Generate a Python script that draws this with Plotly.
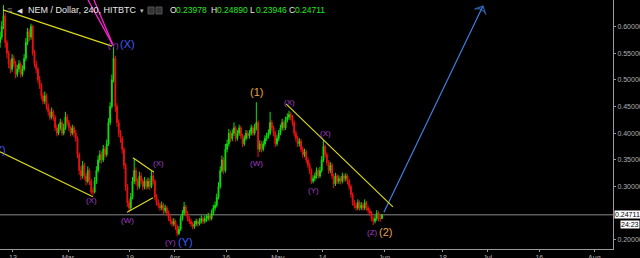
import plotly.graph_objects as go
import pandas as pd

# ---------------- data (12h candles) ----------------
candle_start = "2018-02-09 06:00"
candle_step = "12h"

opens = [0.570,0.580,0.600,0.620,0.570,0.550,0.530,0.520,0.540,0.530,
         0.510,0.520,0.530,0.510,0.520,0.540,0.570,0.590,0.580,0.600,
         0.550,0.530,0.520,0.500,0.490,0.470,0.460,0.470,0.450,0.440,
         0.430,0.440,0.430,0.410,0.400,0.410,0.420,0.400,0.410,0.430,
         0.420,0.410,0.400,0.410,0.400,0.390,0.360,0.330,0.320,0.340,
         0.320,0.310,0.330,0.310,0.290,0.290,0.310,0.330,0.350,0.360,
         0.350,0.370,0.360,0.380,0.420,0.450,0.500,0.540,0.450,0.420,
         0.400,0.390,0.370,0.340,0.300,0.270,0.260,0.280,0.310,0.330,
         0.310,0.300,0.320,0.310,0.300,0.310,0.300,0.310,0.300,0.320,
         0.310,0.280,0.270,0.265,0.260,0.265,0.255,0.260,0.250,0.240,
         0.235,0.230,0.235,0.225,0.212,0.220,0.240,0.250,0.262,0.250,
         0.240,0.235,0.230,0.225,0.230,0.235,0.230,0.235,0.240,0.235,
         0.240,0.240,0.245,0.240,0.250,0.260,0.265,0.280,0.300,0.330,
         0.350,0.330,0.370,0.380,0.400,0.390,0.400,0.410,0.390,0.400,
         0.410,0.395,0.380,0.390,0.400,0.395,0.400,0.410,0.400,0.410,
         0.420,0.370,0.380,0.370,0.380,0.390,0.395,0.400,0.420,0.410,
         0.400,0.380,0.390,0.400,0.410,0.420,0.410,0.425,0.430,0.435,
         0.430,0.420,0.400,0.390,0.380,0.385,0.370,0.360,0.365,0.350,
         0.340,0.330,0.310,0.315,0.320,0.330,0.320,0.330,0.350,0.375,
         0.360,0.345,0.330,0.340,0.320,0.305,0.320,0.310,0.315,0.310,
         0.320,0.315,0.320,0.310,0.300,0.285,0.270,0.265,0.260,0.270,
         0.260,0.265,0.260,0.270,0.260,0.255,0.250,0.240,0.235,0.240,
         0.250,0.240,0.23978]
highs = [0.590,0.610,0.640,0.625,0.575,0.555,0.538,0.548,0.546,0.535,
         0.528,0.537,0.534,0.527,0.548,0.578,0.597,0.596,0.605,0.603,
         0.556,0.536,0.524,0.507,0.494,0.476,0.478,0.474,0.456,0.446,
         0.448,0.444,0.434,0.416,0.417,0.427,0.424,0.418,0.440,0.436,
         0.425,0.414,0.416,0.414,0.406,0.394,0.364,0.338,0.348,0.345,
         0.326,0.338,0.334,0.315,0.298,0.318,0.338,0.358,0.368,0.366,
         0.378,0.375,0.388,0.428,0.458,0.510,0.561,0.545,0.456,0.426,
         0.406,0.395,0.374,0.344,0.305,0.276,0.288,0.318,0.352,0.336,
         0.316,0.328,0.326,0.315,0.318,0.314,0.317,0.315,0.330,0.325,
         0.314,0.286,0.276,0.270,0.272,0.269,0.266,0.264,0.255,0.246,
         0.240,0.241,0.238,0.229,0.226,0.246,0.256,0.271,0.266,0.254,
         0.245,0.240,0.234,0.236,0.240,0.239,0.241,0.246,0.244,0.246,
         0.247,0.251,0.249,0.257,0.266,0.272,0.287,0.308,0.338,0.358,
         0.355,0.380,0.388,0.408,0.405,0.407,0.420,0.414,0.406,0.416,
         0.414,0.399,0.396,0.406,0.405,0.406,0.416,0.414,0.417,0.458,
         0.424,0.387,0.385,0.386,0.396,0.401,0.407,0.440,0.425,0.414,
         0.404,0.396,0.406,0.416,0.427,0.424,0.431,0.437,0.442,0.440,
         0.434,0.424,0.405,0.395,0.391,0.389,0.375,0.371,0.369,0.355,
         0.345,0.334,0.321,0.326,0.336,0.334,0.337,0.357,0.387,0.379,
         0.364,0.349,0.346,0.344,0.324,0.326,0.324,0.321,0.319,0.326,
         0.324,0.325,0.323,0.314,0.304,0.289,0.275,0.270,0.276,0.274,
         0.271,0.269,0.276,0.273,0.264,0.259,0.254,0.244,0.246,0.256,
         0.254,0.247,0.24890]
lows = [0.560,0.575,0.595,0.560,0.540,0.522,0.512,0.515,0.524,0.503,
        0.505,0.514,0.504,0.506,0.516,0.535,0.565,0.572,0.575,0.545,
        0.524,0.512,0.494,0.483,0.463,0.454,0.455,0.444,0.433,0.424,
        0.426,0.423,0.404,0.394,0.396,0.405,0.395,0.396,0.406,0.414,
        0.404,0.394,0.396,0.393,0.384,0.353,0.322,0.312,0.315,0.313,
        0.302,0.306,0.303,0.286,0.283,0.287,0.305,0.326,0.344,0.343,
        0.346,0.354,0.356,0.376,0.415,0.446,0.495,0.440,0.412,0.393,
        0.382,0.362,0.333,0.292,0.262,0.252,0.256,0.276,0.305,0.303,
        0.293,0.296,0.304,0.293,0.295,0.294,0.296,0.294,0.297,0.304,
        0.274,0.264,0.259,0.254,0.256,0.249,0.250,0.245,0.235,0.229,
        0.225,0.226,0.219,0.207,0.209,0.217,0.236,0.246,0.244,0.235,
        0.230,0.225,0.220,0.221,0.226,0.225,0.227,0.231,0.230,0.231,
        0.234,0.236,0.235,0.237,0.246,0.255,0.261,0.276,0.296,0.326,
        0.323,0.326,0.364,0.375,0.383,0.385,0.395,0.384,0.386,0.395,
        0.389,0.374,0.376,0.386,0.389,0.390,0.396,0.395,0.396,0.405,
        0.355,0.365,0.364,0.366,0.375,0.385,0.390,0.396,0.404,0.394,
        0.374,0.376,0.385,0.396,0.405,0.404,0.406,0.420,0.425,0.424,
        0.414,0.394,0.384,0.374,0.375,0.364,0.354,0.355,0.344,0.334,
        0.323,0.305,0.306,0.310,0.315,0.315,0.316,0.326,0.346,0.354,
        0.339,0.324,0.325,0.314,0.297,0.301,0.305,0.305,0.304,0.306,
        0.309,0.310,0.304,0.294,0.279,0.264,0.259,0.255,0.256,0.255,
        0.256,0.255,0.256,0.255,0.250,0.245,0.235,0.228,0.231,0.236,
        0.235,0.234,0.23946]
closes = [0.580,0.600,0.620,0.570,0.550,0.530,0.520,0.540,0.530,0.510,
          0.520,0.530,0.510,0.520,0.540,0.570,0.590,0.580,0.600,0.550,
          0.530,0.520,0.500,0.490,0.470,0.460,0.470,0.450,0.440,0.430,
          0.440,0.430,0.410,0.400,0.410,0.420,0.400,0.410,0.430,0.420,
          0.410,0.400,0.410,0.400,0.390,0.360,0.330,0.320,0.340,0.320,
          0.310,0.330,0.310,0.290,0.290,0.310,0.330,0.350,0.360,0.350,
          0.370,0.360,0.380,0.420,0.450,0.500,0.540,0.450,0.420,0.400,
          0.390,0.370,0.340,0.300,0.270,0.260,0.280,0.310,0.330,0.310,
          0.300,0.320,0.310,0.300,0.310,0.300,0.310,0.300,0.320,0.310,
          0.280,0.270,0.265,0.260,0.265,0.255,0.260,0.250,0.240,0.235,
          0.230,0.235,0.225,0.212,0.220,0.240,0.250,0.262,0.250,0.240,
          0.235,0.230,0.225,0.230,0.235,0.230,0.235,0.240,0.235,0.240,
          0.240,0.245,0.240,0.250,0.260,0.265,0.280,0.300,0.330,0.350,
          0.330,0.370,0.380,0.400,0.390,0.400,0.410,0.390,0.400,0.410,
          0.395,0.380,0.390,0.400,0.395,0.400,0.410,0.400,0.410,0.420,
          0.370,0.380,0.370,0.380,0.390,0.395,0.400,0.420,0.410,0.400,
          0.380,0.390,0.400,0.410,0.420,0.410,0.425,0.430,0.435,0.430,
          0.420,0.400,0.390,0.380,0.385,0.370,0.360,0.365,0.350,0.340,
          0.330,0.310,0.315,0.320,0.330,0.320,0.330,0.350,0.375,0.360,
          0.345,0.330,0.340,0.320,0.305,0.320,0.310,0.315,0.310,0.320,
          0.315,0.320,0.310,0.300,0.285,0.270,0.265,0.260,0.270,0.260,
          0.265,0.260,0.270,0.260,0.255,0.250,0.240,0.235,0.240,0.250,
          0.240,0.23978,0.24711]

last_price = 0.24711
last_price_text = "0.24711"
countdown_text = "24:23"

x_range = ["2018-02-09 05:30", "2018-08-06 10:20"]
y_range = [0.1831, 0.6494]

x_tick_dates = ["2018-02-13", "2018-03-01", "2018-03-19", "2018-04-01", "2018-04-16", "2018-05-01",
                "2018-05-14", "2018-06-01", "2018-06-18", "2018-07-01", "2018-07-16", "2018-08-01"]
x_tick_labels = ["13", "Mar", "19", "Apr", "16", "May", "14", "Jun", "18", "Jul", "16", "Aug"]
y_tick_vals = [0.20, 0.30, 0.35, 0.40, 0.45, 0.50, 0.55, 0.60]
y_tick_labels = ["0.20000", "0.30000", "0.35000", "0.40000", "0.45000", "0.50000", "0.55000", "0.60000"]

# trend lines drawn on the chart (yellow)
trend_x0 = ["2018-02-10 02:00", "2018-02-09 05:30", "2018-03-19 21:00", "2018-03-18 03:30", "2018-05-03 09:00"]
trend_y0 = [0.631, 0.365, 0.354, 0.252, 0.455]
trend_x1 = ["2018-03-13 19:00", "2018-03-08 06:00", "2018-03-26 00:00", "2018-03-25 17:00", "2018-06-03 11:00"]
trend_y1 = [0.563, 0.281, 0.327, 0.279, 0.262]

# magenta lines
mag_x0 = ["2018-03-06 19:30", "2018-03-08 13:00"]
mag_y0 = [0.6494, 0.6494]
mag_x1 = ["2018-03-14 02:00", "2018-03-14 02:00"]
mag_y1 = [0.565, 0.565]

# blue projection arrow
arrow_x = ["2018-05-31 20:00", "2018-06-29 15:00"]
arrow_y = [0.252, 0.638]

# wave labels
PURPLE = "#a23fc8"
BLUE = "#3d5bff"
ORANGE = "#e6a24a"
label_text = ["(Y)", "(X)", "(X)", "(W)", "(X)", "(Y)", "(Y)", "(1)", "(W)", "(X)", "(X)", "(Y)", "(Z)", "(2)"]
label_x = ["2018-03-14 05:00", "2018-03-18 10:30", "2018-03-07 23:00", "2018-03-18 10:30", "2018-03-27 04:00",
           "2018-03-30 22:30", "2018-04-04 00:15", "2018-04-24 22:30", "2018-04-24 22:30", "2018-05-04 12:45",
           "2018-05-14 17:00", "2018-05-11 05:15", "2018-05-28 09:00", "2018-06-01 10:30"]
label_y = [0.565, 0.567, 0.273, 0.2356, 0.3423, 0.1944, 0.196, 0.477, 0.344, 0.458, 0.3985, 0.2918, 0.2131, 0.215]
label_color = [PURPLE, BLUE, PURPLE, PURPLE, PURPLE, PURPLE, BLUE, ORANGE, PURPLE, PURPLE, PURPLE, PURPLE, PURPLE, ORANGE]
label_size = [8, 11, 8, 8, 8, 8, 11, 11, 8, 8, 8, 8, 8, 11]

times = pd.date_range(candle_start, periods=len(closes), freq=candle_step)

GREEN = "#0fe00f"
RED = "#ee1111"
fig = go.Figure()
fig.add_trace(go.Candlestick(
    x=times, open=opens, high=highs, low=lows, close=closes,
    increasing=dict(line=dict(color=GREEN, width=1), fillcolor=GREEN),
    decreasing=dict(line=dict(color=RED, width=1), fillcolor=RED),
    whiskerwidth=0, showlegend=False, hoverinfo="skip"))

fig.add_trace(go.Scatter(
    x=arrow_x, y=arrow_y, mode="lines+markers",
    line=dict(color="#3f7fe0", width=1.2),
    marker=dict(symbol=["circle", "arrow-wide-open"], size=[0, 9], angleref="previous",
                color="#3f7fe0", line=dict(color="#3f7fe0", width=1.2)),
    showlegend=False, hoverinfo="skip", cliponaxis=False))

shapes = []
shapes.append(dict(type="line", xref="paper", yref="y", x0=0, x1=1, y0=last_price, y1=last_price,
                   line=dict(color="#8a8a8a", width=1), layer="below"))
for a, b, c, d in zip(trend_x0, trend_y0, trend_x1, trend_y1):
    shapes.append(dict(type="line", xref="x", yref="y", x0=a, y0=b, x1=c, y1=d,
                       line=dict(color="#d8d820", width=1.2)))
for a, b, c, d in zip(mag_x0, mag_y0, mag_x1, mag_y1):
    shapes.append(dict(type="line", xref="x", yref="y", x0=a, y0=b, x1=c, y1=d,
                       line=dict(color="#ff1fd0", width=1.3)))
# header mini boxes
shapes.append(dict(type="rect", xref="paper", yref="paper", x0=148/613, x1=154/613, y0=1-14/249, y1=1-7/249,
                   line=dict(color="#555", width=1), fillcolor="#333"))
shapes.append(dict(type="rect", xref="paper", yref="paper", x0=156/613, x1=162/613, y0=1-14/249, y1=1-7/249,
                   line=dict(color="#555", width=1), fillcolor="#333"))

ann = []
for t, x, y, c, s in zip(label_text, label_x, label_y, label_color, label_size):
    ann.append(dict(text=t, x=x, y=y, xref="x", yref="y", showarrow=False,
                    font=dict(color=c, size=s, family="Liberation Sans")))
# blue label cut by the left edge, as in the reference
ann.append(dict(text="(Y)", x=8/613, y=0.369, xref="paper", yref="y", xanchor="right", showarrow=False,
                font=dict(color=BLUE, size=11, family="Liberation Sans")))

# header
FONT = "Liberation Sans"
ann.append(dict(text="≡", x=5/613, y=1-10.5/249, xref="paper", yref="paper", xanchor="left", yanchor="middle",
                showarrow=False, font=dict(color="#888", size=9, family=FONT)))
ann.append(dict(text="◀", x=15/613, y=1-10.5/249, xref="paper", yref="paper", xanchor="left", yanchor="middle",
                showarrow=False, font=dict(color="#ddd", size=7, family=FONT)))
ann.append(dict(text="NEM / Dollar, 240, HITBTC", x=26/613, y=1-10.5/249, xref="paper", yref="paper",
                xanchor="left", yanchor="middle", showarrow=False, font=dict(color="#e8e8e8", size=9, family=FONT)))
ann.append(dict(text="▾", x=138/613, y=1-10.5/249, xref="paper", yref="paper",
                xanchor="left", yanchor="middle", showarrow=False, font=dict(color="#bbb", size=7, family=FONT)))
ohlc_keys = ["O", "H", "L", "C"]
ohlc_vals = ["0.23978", "0.24890", "0.23946", "0.24711"]
ohlc_key_px = [168, 209, 248, 287]
for k, v, px in zip(ohlc_keys, ohlc_vals, ohlc_key_px):
    ann.append(dict(text=k, x=px/613, y=1-10.5/249, xref="paper", yref="paper", xanchor="left", yanchor="middle",
                    showarrow=False, font=dict(color="#e8e8e8", size=8.5, family=FONT)))
    ann.append(dict(text=v, x=(px+6)/613, y=1-10.5/249, xref="paper", yref="paper", xanchor="left",
                    yanchor="middle", showarrow=False, font=dict(color="#22e822", size=8.5, family=FONT)))

# price tag
ann.append(dict(text=last_price_text, x=1, y=last_price, xref="paper", yref="y", xanchor="left", yanchor="middle",
                xshift=1, showarrow=False, bgcolor="#ffffff", borderpad=0,
                font=dict(color="#000", size=7, family=FONT)))
ann.append(dict(text=countdown_text, x=1, y=last_price, xref="paper", yref="y", xanchor="left", yanchor="middle",
                xshift=7, yshift=-10, showarrow=False, bgcolor="#ffffff", borderpad=0,
                font=dict(color="#000", size=7, family=FONT)))

fig.update_layout(
    width=640, height=258,
    margin=dict(l=0, r=27, t=0, b=9, autoexpand=False),
    paper_bgcolor="#000000", plot_bgcolor="#000000",
    shapes=shapes, annotations=ann, showlegend=False,
    xaxis=dict(type="date", range=x_range, rangeslider=dict(visible=False), automargin=False,
               showgrid=False, zeroline=False, showline=True, linecolor="#9a9a9a", linewidth=1,
               tickvals=x_tick_dates, ticktext=x_tick_labels, ticks="outside", ticklen=2,
               tickcolor="#9a9a9a", tickfont=dict(color="#b0b0b0", size=7, family=FONT)),
    yaxis=dict(range=y_range, side="right", showgrid=False, zeroline=False, showline=True, automargin=False,
               linecolor="#9a9a9a", linewidth=1, tickvals=y_tick_vals, ticktext=y_tick_labels,
               ticks="outside", ticklen=2, tickcolor="#9a9a9a",
               tickfont=dict(color="#b0b0b0", size=7, family=FONT)),
)

fig.write_html("out.html")
